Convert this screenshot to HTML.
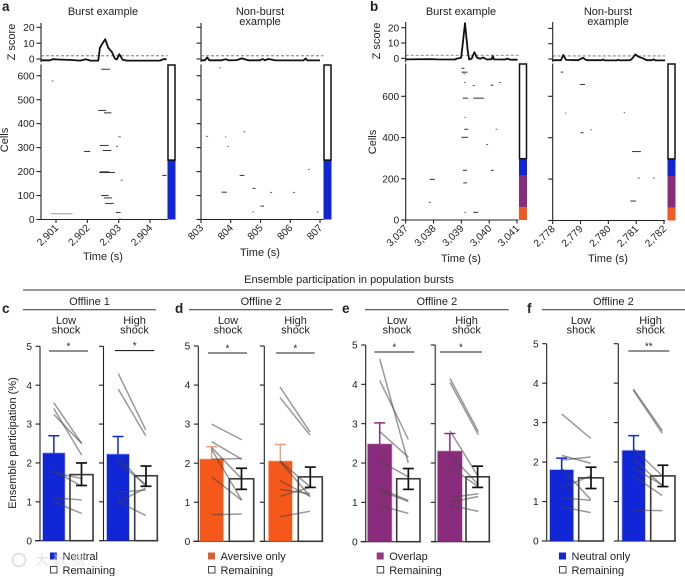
<!DOCTYPE html>
<html lang="en">
<head>
<meta charset="utf-8">
<title>Ensemble participation in population bursts</title>
<style>
html,body{margin:0;padding:0;background:#fff;}
svg{display:block;filter:blur(0.3px);}
text{font-family:"Liberation Sans","Noto Sans CJK SC",sans-serif;fill:#222;}
</style>
</head>
<body>
<svg id="fig" xmlns="http://www.w3.org/2000/svg" width="685" height="576" viewBox="0 0 685 576"></svg>
<script>
/* ---------- raster example data ---------- */
const zTimesA1 = [2900.52,2900.81,2900.89,2901.07,2901.5,2901.77,2901.96,2902.09,2902.35,2902.40,2902.46,2902.57,2902.67,2902.78,2902.88,2902.94,2903.02,2903.13,2903.26,2904.32,2904.45,2904.53];
const zValuesA1 = [-0.8,-0.8,-0.1,-0.3,-0.6,-1,-0.2,-1,-1,7,9,12.5,7,4.5,0.3,-0.3,3,-0.5,-1,-1,0,-0.2];
const zTimesA2 = [803,803.13,803.21,803.28,803.69,803.83,803.92,804.2,804.37,804.59,804.98,805.07,805.15,805.26,805.38,805.49,806.44,806.52,806.57,807];
const zValuesA2 = [-0.8,-0.8,1,-0.8,-0.8,-0.1,-0.8,-0.7,0.4,-0.8,-0.8,0,-0.8,0,-0.4,-0.9,-0.9,0.3,-0.8,-0.9];
const zTimesB1 = [3037,3037.93,3038.11,3038.77,3038.84,3038.99,3039.04,3039.13,3039.23,3039.28,3039.37,3039.47,3039.56,3039.67,3039.79,3039.91,3040.09,3040.13,3040.17,3040.57,3040.66,3040.75,3041.02];
const zValuesB1 = [-0.7,-0.5,-0.7,-0.8,-0.2,0.3,8,23,5,-0.7,-0.3,4,0.5,-0.3,0.5,-0.8,-0.6,1.5,-0.7,-0.8,-0.2,-0.9,-0.9];
const zTimesB2 = [2778,2778.3,2778.38,2778.48,2778.92,2779.08,2779.22,2779.76,2779.82,2779.88,2780.3,2780.36,2780.43,2780.78,2780.86,2780.97,2781.08,2781.23,2781.38,2781.56,2781.62,2781.7,2782.04];
const zValuesB2 = [-0.8,-0.8,2.7,-0.6,-0.8,0.8,-0.8,-0.8,-0.3,-0.9,-0.9,-0.5,-0.9,-0.8,0.3,3,1.5,0.5,-0.8,-0.8,-0.2,-0.9,-0.9];

/* raster events: start time, end time, cell index */
const spikesA1 = [[2902.44,2902.72,627],[2900.86,2900.92,578],[2902.35,2902.6,455],[2902.53,2902.77,445],[2902.99,2903.07,345],[2902.4,2902.68,309],[2902.91,2902.98,305],[2902.49,2902.77,288],[2901.89,2902.09,284],[2902.38,2902.88,196],[2902.4,2902.7,199],[2903.06,2903.13,164],[2904.39,2904.53,184],[2902.44,2902.68,100],[2902.53,2902.79,90],[2902.57,2902.84,67],[2902.91,2903.06,29],[2900.83,2901.53,24],[2902.99,2903.11,1]];
const spikesA2 = [[803.62,803.67,633],[803.16,803.24,347],[803.81,803.85,345],[803.89,803.94,305],[804.42,804.49,366],[804.3,804.46,184],[803.69,803.87,114],[804.73,804.83,130],[805.32,805.39,113],[806.09,806.16,113],[806.6,806.66,209],[805.0,805.12,56],[804.73,804.78,32],[806.89,806.95,31]];
const spikesB1 = [[3039.0,3039.11,736],[3039.01,3039.22,717],[3039.07,3039.14,709],[3039.1,3039.16,667],[3039.4,3039.49,652],[3040.05,3040.16,654],[3040.35,3040.42,667],[3039.05,3039.24,591],[3039.43,3039.81,591],[3039.11,3039.16,498],[3039.1,3039.24,440],[3040.23,3040.3,440],[3039,3039.24,401],[3039.89,3039.96,366],[3039.05,3039.2,241],[3040.06,3040.16,241],[3037.86,3038.05,197],[3039.07,3039.2,180],[3037.83,3037.91,86],[3039.11,3039.17,37],[3039.43,3039.6,37]];
const spikesB2 = [[2778.29,2778.38,717],[2778.98,2779.16,657],[2778.44,2778.49,519],[2780.55,2780.6,521],[2779.0,2779.11,424],[2779.35,2779.4,439],[2780.85,2781.17,333],[2781.05,2781.13,205],[2781.6,2781.67,205],[2780.79,2780.99,94]];

const xTicksA1 = [2901,2902,2903,2904];
const xTicksA2 = [803,804,805,806,807];
const xTicksB1 = [3037,3038,3039,3040,3041];
const xTicksB2 = [2778,2779,2780,2781,2782];
const cellTicksA = [0,100,200,300,400,500,600];
const cellTicksB = [0,200,400,600];
const zTicks = [0,10,20];

/* side-bar group boundaries in cell counts */
const groupsA = [{from:0,to:250,color:"#1126d6"}];
const groupsB = [{from:0,to:62,color:"#ee5a20"},{from:62,to:215,color:"#8a2c7c"},{from:215,to:300,color:"#1126d6"}];

/* ---------- participation data ---------- */
const barTicks = [0,1,2,3,4,5];
const cLowBars = [2.25,1.7];
const cLowErr = [2.7,1.42,2.0];
const cLowPairs = [[3.55,2.5],[3.4,2.2],[3.25,2.5],[1.8,1.4],[1.75,1.6],[1.1,1.05],[1.0,0.7]];
const cHighBars = [2.22,1.67];
const cHighErr = [2.68,1.4,1.92];
const cHighPairs = [[4.3,2.85],[3.9,2.7],[2.15,1.4],[2.0,1.45],[1.25,1.3],[1.0,1.35],[1.0,0.65]];
const dLowBars = [2.1,1.6];
const dLowErr = [2.42,1.33,1.87];
const dLowPairs = [[3.0,2.6],[2.55,2.1],[2.4,1.6],[2.1,2.12],[2.35,1.05],[1.65,1.05],[0.68,0.7]];
const dHighBars = [2.05,1.65];
const dHighErr = [2.48,1.38,1.9];
const dHighPairs = [[3.95,2.8],[3.68,2.72],[2.05,1.4],[2.05,1.15],[1.55,1.15],[1.33,1.22],[1.15,1.38],[0.63,0.77]];
const eLowBars = [2.48,1.6];
const eLowErr = [3.02,1.33,1.86];
const eLowPairs = [[4.65,2.0],[4.1,2.6],[2.8,2.15],[2.05,1.65],[1.35,1.05],[1.3,1.02],[0.92,0.72]];
const eHighBars = [2.3,1.65];
const eHighErr = [2.75,1.38,1.92];
const eHighPairs = [[4.15,2.8],[4.05,2.72],[2.82,1.65],[2.22,1.45],[1.9,1.4],[1.12,1.22],[1.0,1.15],[0.93,0.77]];
const fLowBars = [1.8,1.6];
const fLowErr = [2.1,1.33,1.87];
const fLowPairs = [[3.22,2.6],[2.17,1.97],[2.05,2.13],[1.85,1.05],[1.35,1.65],[1.1,1.03],[0.87,0.72]];
const fHighBars = [2.29,1.65];
const fHighErr = [2.67,1.38,1.92];
const fHighPairs = [[3.85,2.8],[3.82,2.73],[2.35,1.65],[2.1,1.4],[1.85,1.42],[1.65,1.15],[0.78,0.77]];

/* ---------- helpers ---------- */
const NS = "http://www.w3.org/2000/svg";
const root = document.getElementById("fig");
const TICK_FONT = 10.2;
function mk(tag, attrs, parent, txt){
  const el = document.createElementNS(NS, tag);
  for(const k in attrs) el.setAttribute(k, attrs[k]);
  if(txt !== undefined) el.textContent = txt;
  (parent || root).appendChild(el);
  return el;
}
function line(x1,y1,x2,y2,stroke,w,parent,extra){
  return mk("line",Object.assign({x1,y1,x2,y2,stroke,"stroke-width":w},extra||{}),parent);
}
function label(x,y,s,size,anchor,parent,extra){
  return mk("text",Object.assign({x,y,"font-size":size,"text-anchor":anchor||"middle"},extra||{}),parent,s);
}
function linear(d0,d1,r0,r1){ return v => r0 + (v-d0)*(r1-r0)/(d1-d0); }
function fmt(n){ return n>=1000 ? Math.floor(n/1000)+","+String(n%1000).padStart(3,"0") : String(n); }

function rasterPanel(o){
  const g = mk("g",{});
  
  
  const X = linear(o.xDom[0],o.xDom[1],o.xRange[0],o.xRange[1]);
  const Z = linear(0,20,o.z0,o.z20);
  const C = linear(0,o.cellRef,o.c0,o.cellRefY);
  const ax = o.axisX;
  const axisColor = "#222";
  const zAxis = mk("g",{},g);
  
  
  line(ax,o.zTop,ax,o.zBottom,axisColor,1.1,zAxis);
  zTicks.forEach(t=>{
    line(ax-4.5,Z(t),ax,Z(t),axisColor,1.1,zAxis);
    if(o.labels) label(ax-6.5,Z(t)+3.6,String(t),TICK_FONT,"end",zAxis);
  });
  const thr = line(ax,Z(2),o.xEnd,Z(2),"#666",0.8,g,{"stroke-dasharray":"3 2"});
  
  
  const tr = mk("polyline",{fill:"none",stroke:"#111","stroke-width":1.8,"stroke-linejoin":"round",
    points:o.zT.map((t,i)=>X(t).toFixed(1)+","+Z(o.zV[i]).toFixed(1)).join(" ")},g);
  
  
  const cAxis = mk("g",{},g);
  
  
  line(ax,o.cTop,ax,o.c0,axisColor,1.1,cAxis);
  o.cTicks.forEach(t=>{
    line(ax-4.5,C(t),ax,C(t),axisColor,1.1,cAxis);
    if(o.labels) label(ax-6.5,C(t)+3.6,String(t),TICK_FONT,"end",cAxis);
  });
  const tAxis = mk("g",{},g);
  
  
  line(ax,o.c0,o.xEnd,o.c0,axisColor,1.1,tAxis);
  o.xTicks.forEach(t=>{
    const x = X(t);
    line(x,o.c0,x,o.c0+3.5,axisColor,1.1,tAxis);
    label(x+3,o.c0+9,fmt(t),TICK_FONT,"end",tAxis,{transform:"rotate(-45 "+(x+3)+" "+(o.c0+9)+")"});
  });
  o.spikes.forEach(s=>{
    const w = s[1]-s[0];
    const sp = line(X(s[0]),C(s[2]),X(s[1]),C(s[2]),w>0.6?"#999":(w<0.09?"#666":"#333"),1,g);
    
    
  });
  const side = mk("g",{},g);
  
  
  o.groups.forEach(gr=>{
    mk("rect",{x:o.sideX,y:C(gr.to),width:o.sideW,height:C(gr.from)-C(gr.to),fill:gr.color},side);
  });
  const top = o.groups[o.groups.length-1].to;
  mk("rect",{x:o.sideX+0.5,y:o.cTop+0.5,width:o.sideW-1,height:C(top)-o.cTop,fill:"#fff",stroke:"#111","stroke-width":1.5},side);
  o.title.forEach((s,i)=>{
    const t = label(o.titleX,15+i*10,s,11,"middle",g);
    
    
  });
  const tx = label(o.titleX,o.xLabelY,"Time (s)",11,"middle",g);
  
  
}

function barPanel(o){
  const g = mk("g",{});
  
  
  const Y = linear(0,5,o.y0,o.y5);
  const ax = mk("g",{},g);
  
  
  line(o.axisX,o.y5,o.axisX,o.y0,o.axisColor||"#222",o.axisW||1.1,ax);
  line(o.axisX-(o.labels?5:4),o.y0,o.bars[1]+o.bars[3]+1,o.y0,"#222",1.1,ax);
  barTicks.forEach(t=>{
    line(o.axisX-4.5,Y(t),o.axisX,Y(t),"#222",1.1,ax);
    if(o.labels) label(o.axisX-8,Y(t)+3.6,String(t),TICK_FONT,"end",ax);
  });
  const b1 = mk("rect",{x:o.bars[0],y:Y(o.vals[0]),width:o.barW[0],height:o.y0-Y(o.vals[0]),fill:o.color,stroke:o.color,"stroke-opacity":0.3,"stroke-width":1.6},g);
  
  
  const cx1 = o.bars[0]+o.barW[0]/2;
  const errCol = o.errColor || o.color;
  const e1 = mk("g",{},g);
  
  
  line(cx1,Y(o.vals[0]),cx1,Y(o.err[0]),errCol,1.5,e1);
  line(cx1-5.5,Y(o.err[0]),cx1+5.5,Y(o.err[0]),errCol,1.5,e1);
  const b2 = mk("rect",{x:o.bars[1],y:Y(o.vals[1]),width:o.bars[3],height:o.y0-Y(o.vals[1]),fill:"#fff",stroke:"#3a3a3a","stroke-width":1.6},g);
  
  
  o.pairs.forEach(p=>{
    const l = line(o.lineX[0],Y(p[0]),o.lineX[1],Y(p[1]),"rgba(70,70,70,.55)",1.5,g);
    
    
  });
  const cx2 = o.bars[1]+o.bars[3]/2;
  const e2 = mk("g",{},g);
  
  
  line(cx2,Y(o.err[1]),cx2,Y(o.err[2]),"#111",1.7,e2);
  line(cx2-5.5,Y(o.err[1]),cx2+5.5,Y(o.err[1]),"#111",1.7,e2);
  line(cx2-5.5,Y(o.err[2]),cx2+5.5,Y(o.err[2]),"#111",1.7,e2);
  if(o.sig){
    const sg = mk("g",{},g);
    
    
    line(o.sig[0],o.sig[2],o.sig[1],o.sig[2],"#222",1.1,sg);
    label((o.sig[0]+o.sig[1])/2,o.sig[2]-1.5,o.sig[3],10,"middle",sg);
  }
  const t1 = label(o.headX,324,o.head,11,"middle",g);
  
  
  const t2 = label(o.headX,333.5,"shock",11,"middle",g);
  
  
}

function legend(x,color,name){
  const g = mk("g",{});
  
  
  mk("rect",{x,y:552.5,width:7,height:7,fill:color},g);
  label(x+12.5,560,name,11,"start",g);
  mk("rect",{x:x+0.5,y:566.5,width:6.5,height:6.5,fill:"#fff",stroke:"#333","stroke-width":0.9},g);
  label(x+12.5,574,"Remaining",11,"start",g);
}
function header(x1,x2,s){
  const g = mk("g",{});
  
  
  line(x1,309.7,x2,309.7,"#333",1,g);
  label((x1+x2)/2,305,s,11,"middle",g);
}
function panelLetter(x,y,s){
  const t = mk("text",{x,y,"font-size":13.5,"font-weight":"bold"},root,s);
  
  
}
function rotLabel(x,y,s){
  const t = label(x,y,s,11,"middle",root,{transform:"rotate(-90 "+x+" "+y+")"});
  
  
}

/* ---------- raster panels ---------- */
rasterPanel({name:"panel-a-burst",xDom:[2901,2904],xRange:[56,150],zT:zTimesA1,zV:zValuesA1,spikes:spikesA1,xTicks:xTicksA1,
  axisX:41,xEnd:167.5,zTop:23,zBottom:62,z0:59,z20:27.3,c0:219.5,cTop:64.5,cellRef:600,cellRefY:75.7,cTicks:cellTicksA,labels:true,
  groups:groupsA,sideX:167.5,sideW:8,title:["Burst example"],titleX:103,xLabelY:260});
rasterPanel({name:"panel-a-non-burst",xDom:[803,807],xRange:[201,320],zT:zTimesA2,zV:zValuesA2,spikes:spikesA2,xTicks:xTicksA2,
  axisX:201,xEnd:323.5,zTop:23,zBottom:62,z0:59,z20:27.3,c0:219.5,cTop:64.5,cellRef:600,cellRefY:75.7,cTicks:cellTicksA,labels:false,
  groups:groupsA,sideX:323.5,sideW:8,title:["Non-burst","example"],titleX:260,xLabelY:256});
rasterPanel({name:"panel-b-burst",xDom:[3037,3041],xRange:[405.7,517],zT:zTimesB1,zV:zValuesB1,spikes:spikesB1,xTicks:xTicksB1,
  axisX:405.7,xEnd:518.5,zTop:22,zBottom:62,z0:58.3,z20:27.7,c0:220,cTop:63.5,cellRef:600,cellRefY:96.3,cTicks:cellTicksB,labels:true,
  groups:groupsB,sideX:519,sideW:8,title:["Burst example"],titleX:461,xLabelY:262});
rasterPanel({name:"panel-b-non-burst",xDom:[2778,2782],xRange:[552.7,664],zT:zTimesB2,zV:zValuesB2,spikes:spikesB2,xTicks:xTicksB2,
  axisX:552.7,xEnd:665,zTop:22,zBottom:62,z0:59,z20:28.4,c0:220.5,cTop:63.5,cellRef:600,cellRefY:96.3,cTicks:cellTicksB,labels:false,
  groups:groupsB,sideX:667.5,sideW:8,title:["Non-burst","example"],titleX:608,xLabelY:262});

rotLabel(15,42,"Z score");
rotLabel(8,140,"Cells");
rotLabel(380,41,"Z score");
rotLabel(376,142,"Cells");

panelLetter(2,11,"a");
panelLetter(370,11,"b");
panelLetter(2,313,"c");
panelLetter(175,313,"d");
panelLetter(342,313,"e");
panelLetter(527,313,"f");

/* ---------- section headers ---------- */
const mainHead = mk("g",{});


label(349,283,"Ensemble participation in population bursts",11,"middle",mainHead);
line(23,290,685,290,"#333",1.1,mainHead);
header(23,156,"Offline 1");
header(189,333,"Offline 2");
header(365,508.7,"Offline 2");
header(541.7,685,"Offline 2");

/* ---------- bar panels ---------- */
barPanel({name:"panel-c-low-shock",axisX:40,y0:540.7,y5:346.3,labels:true,color:"#1126d6",vals:cLowBars,err:cLowErr,pairs:cLowPairs,
  bars:[43,70,0,23],barW:[21.7],lineX:[53.7,81.7],sig:[49,88,351,"*"],head:"Low",headX:66});
barPanel({name:"panel-c-high-shock",axisX:103.5,y0:540.7,y5:346.3,labels:false,color:"#1126d6",vals:cHighBars,err:cHighErr,pairs:cHighPairs,
  bars:[107,134.7,0,22.6],barW:[22],lineX:[118.3,145.7],sig:[115,154.3,350.6,"*"],head:"High",headX:134.5});
barPanel({name:"panel-d-low-shock",axisX:198.3,y0:541.3,y5:346,labels:true,color:"#f4581a",errColor:"#eea080",vals:dLowBars,err:dLowErr,pairs:dLowPairs,
  bars:[200,229.3,0,24.4],barW:[23.3],lineX:[211.7,241.7],sig:[208,247,353,"*"],head:"Low",headX:228});
barPanel({name:"panel-d-high-shock",axisX:264.3,y0:541.3,y5:346,labels:false,color:"#f4581a",errColor:"#eea080",vals:dHighBars,err:dHighErr,pairs:dHighPairs,
  bars:[268.7,298.3,0,24],barW:[23.3],lineX:[280,310],sig:[276,314.7,353,"*"],head:"High",headX:295.5});
barPanel({name:"panel-e-low-shock",axisX:365.7,y0:541.7,y5:345,labels:true,color:"#8a2c7c",vals:eLowBars,err:eLowErr,pairs:eLowPairs,
  bars:[367.7,396.7,0,23.3],barW:[24],lineX:[379.7,408.3],sig:[374.3,414.3,352,"*"],head:"Low",headX:397});
barPanel({name:"panel-e-high-shock",axisX:435.3,y0:541.7,y5:345,labels:false,axisColor:"#666",axisW:1.6,color:"#8a2c7c",vals:eHighBars,err:eHighErr,pairs:eHighPairs,
  bars:[437.7,466,0,23.3],barW:[24.3],lineX:[450,478.3],sig:[440,482,352,"*"],head:"High",headX:466.5});
barPanel({name:"panel-f-low-shock",axisX:546.7,y0:541,y5:343.7,labels:true,color:"#1126d6",vals:fLowBars,err:fLowErr,pairs:fLowPairs,
  bars:[550,578.7,0,24.6],barW:[23.3],lineX:[561.7,590.7],sig:null,head:"Low",headX:581});
barPanel({name:"panel-f-high-shock",axisX:618.3,y0:541,y5:343.7,labels:false,color:"#1126d6",vals:fHighBars,err:fHighErr,pairs:fHighPairs,
  bars:[622.3,650.7,0,24.3],barW:[22.7],lineX:[633.3,662.3],sig:[628.3,669.3,351,"**"],head:"High",headX:650.5});

rotLabel(16,443,"Ensemble participation (%)");

legend(50,"#1126d6","Neutral");
legend(208,"#d8602f","Aversive only");
legend(376.7,"#8f3a80","Overlap");
legend(559,"#1126d6","Neutral only");

/* ---------- watermark ---------- */
const wm = mk("text",{x:35,y:565,"font-size":14,"letter-spacing":4,"style":"fill:#dcdcdc;fill-opacity:.75"},root,"大数据");


const wmIcon = mk("circle",{cx:19,cy:560,r:6.5,fill:"none",stroke:"#dcdcdc","stroke-width":1.6},root);


</script>
</body>
</html>
